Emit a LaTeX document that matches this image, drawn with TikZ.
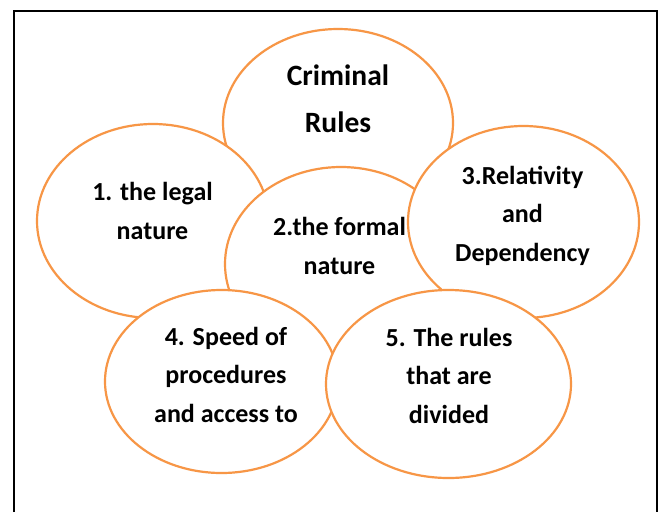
\documentclass[tikz,border=0pt]{standalone}
\usepackage{fontspec}
\setmainfont{Carlito}
\usetikzlibrary{shapes.geometric}
\definecolor{bubbleorange}{RGB}{247,150,70}
\tikzset{
  bubble/.style={ellipse, draw=bubbleorange, line width=2.2pt, fill=white, inner sep=0pt, outer sep=0pt},
  lbl/.style={align=center, inner sep=0pt, anchor=base, font=\bfseries\fontsize{26}{38.5}\selectfont, text=black},
  biglbl/.style={align=center, inner sep=0pt, anchor=base, font=\bfseries\fontsize{29.5}{47}\selectfont, text=black},
  frameline/.style={draw=black, line width=2pt}
}
\begin{document}
\begin{tikzpicture}[x=1pt,y=-1pt]
\useasboundingbox (0,0) rectangle (661,512);
\fill[white] (0,0) rectangle (661,512);
\draw[frameline] (14,512) -- (14,11) -- (657,11) -- (657,512);
\node[bubble, minimum width=230pt, minimum height=188pt] (ecr) at (338,123) {};
\node[biglbl] (tcr) at (338,132) {Criminal\\Rules};
\node[bubble, minimum width=232pt, minimum height=194pt] (e1) at (153,221) {};
\node[lbl] (t1) at (152.5,239) {1. the legal\\nature};
\node[bubble, minimum width=232pt, minimum height=194pt] (e2) at (341,264) {};
\node[lbl] (t2) at (339.5,274) {2.the formal\\nature};
\node[bubble, minimum width=231pt, minimum height=192pt] (e3) at (523.5,222) {};
\node[lbl] (t3) at (522.5,261) {3.Relativity\\and\\Dependency};
\node[bubble, minimum width=233pt, minimum height=183pt] (e4) at (221.5,381.5) {};
\node[lbl] (t4) at (226,422) {4. Speed of\\procedures\\and access to};
\node[bubble, minimum width=245pt, minimum height=188pt] (e5) at (448.5,384) {};
\node[lbl] (t5) at (449,423) {5. The rules\\that are\\divided};
\end{tikzpicture}
\end{document}
